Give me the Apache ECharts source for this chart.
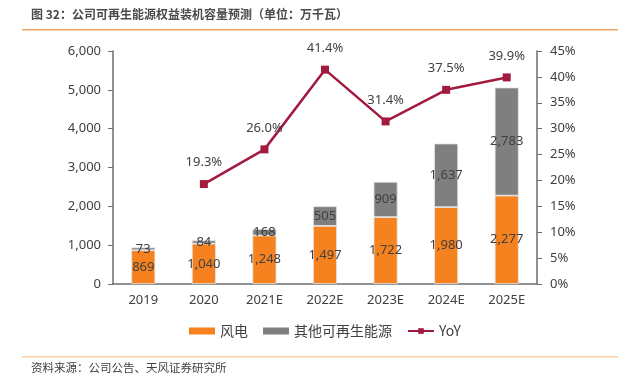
<!DOCTYPE html>
<html>
<head>
<meta charset="utf-8">
<script src="https://cdn.jsdelivr.net/npm/echarts@6/dist/echarts.min.js"></script>
<style>
html,body{margin:0;padding:0;background:#fff;}
#c{width:638px;height:381px;}
</style>
</head>
<body>
<div id="c"></div>
<script>
const categories = ['2019','2020','2021E','2022E','2023E','2024E','2025E'];
const windPower = [869, 1040, 1248, 1497, 1722, 1980, 2277];
const otherRenewable = [73, 84, 168, 505, 909, 1637, 2783];
const yoy = [null, 19.3, 26.0, 41.4, 31.4, 37.5, 39.9];
const leftTicks = [0, 1000, 2000, 3000, 4000, 5000, 6000];
const rightTicks = [0, 5, 10, 15, 20, 25, 30, 35, 40, 45];

const FONT = '"Noto Sans", "Noto Sans CJK SC", sans-serif';
const chart = echarts.init(document.getElementById('c'), null, {renderer: 'canvas'});
const fmt = v => v.toLocaleString('en-US');

chart.setOption({
  animation: false,
  textStyle: {fontFamily: FONT},
  grid: {left: 113, right: 101, top: 51, bottom: 97, containLabel: false},
  graphic: [
    {type: 'text', left: 31, top: 8, style: {text: '图 32：公司可再生能源权益装机容量预测（单位：万千瓦）', font: 'bold 12px "Noto Sans CJK SC", sans-serif', fill: '#4a4a4a'}},
    {type: 'rect', shape: {x: 22, y: 29, width: 596, height: 1.5}, style: {fill: '#F4A460'}},
    {type: 'rect', shape: {x: 22, y: 356, width: 596, height: 1.5}, style: {fill: '#F9CFA5'}},
    {type: 'text', left: 31, top: 362, style: {text: '资料来源：公司公告、天风证券研究所', font: '11.5px "Noto Sans CJK SC", sans-serif', fill: '#404040'}}
  ],
  legend: {
    left: 189, top: 324, padding: 0,
    itemWidth: 26, itemHeight: 7, itemGap: 15,
    textStyle: {fontSize: 14, color: '#404040', fontFamily: '"Noto Sans CJK SC", sans-serif'},
    data: [
      {name: '风电', icon: 'rect', itemStyle: {borderWidth: 0}},
      {name: '其他可再生能源', icon: 'rect', itemStyle: {borderWidth: 0}},
      {name: 'YoY'}
    ]
  },
  xAxis: {
    type: 'category', data: categories,
    axisLine: {lineStyle: {color: '#6d6d6d', width: 1.5}},
    axisTick: {show: false},
    axisLabel: {fontSize: 13, color: '#404040', margin: 10}
  },
  yAxis: [
    {
      type: 'value', min: 0, max: 6000, interval: 1000,
      axisLine: {show: true, lineStyle: {color: '#6d6d6d', width: 1.5}},
      axisTick: {show: true, inside: false, length: 5, lineStyle: {color: '#6d6d6d'}},
      splitLine: {show: false},
      axisLabel: {fontSize: 13, color: '#404040', margin: 12, formatter: v => leftTicks.includes(v) ? fmt(v) : ''}
    },
    {
      type: 'value', min: 0, max: 45, interval: 5, position: 'right',
      axisLine: {show: true, lineStyle: {color: '#6d6d6d', width: 1.5}},
      axisTick: {show: true, inside: false, length: 5, lineStyle: {color: '#6d6d6d'}},
      splitLine: {show: false},
      axisLabel: {fontSize: 13, color: '#404040', margin: 13, formatter: v => rightTicks.includes(v) ? v + '%' : ''}
    }
  ],
  series: [
    {
      name: '风电', type: 'bar', stack: 'cap', data: windPower, barWidth: 24,
      itemStyle: {color: '#F5821F', borderColor: '#e6e6e6', borderWidth: 0.8},
      label: {show: true, position: 'inside', fontSize: 13, color: '#404040', formatter: p => fmt(p.value)}
    },
    {
      name: '其他可再生能源', type: 'bar', stack: 'cap', data: otherRenewable, barWidth: 24,
      itemStyle: {color: '#7F7F7F', borderColor: '#e6e6e6', borderWidth: 0.8},
      label: {show: true, position: 'inside', fontSize: 13, color: '#404040', formatter: p => fmt(p.value)}
    },
    {
      name: 'YoY', type: 'line', yAxisIndex: 1, data: yoy,
      symbol: 'rect', symbolSize: 8,
      lineStyle: {color: '#A31A3F', width: 2.5},
      itemStyle: {color: '#A31A3F'},
      label: {show: true, position: 'top', distance: 11, fontSize: 13, color: '#404040', formatter: p => p.value.toFixed(1) + '%'}
    }
  ]
});
</script>
</body>
</html>
